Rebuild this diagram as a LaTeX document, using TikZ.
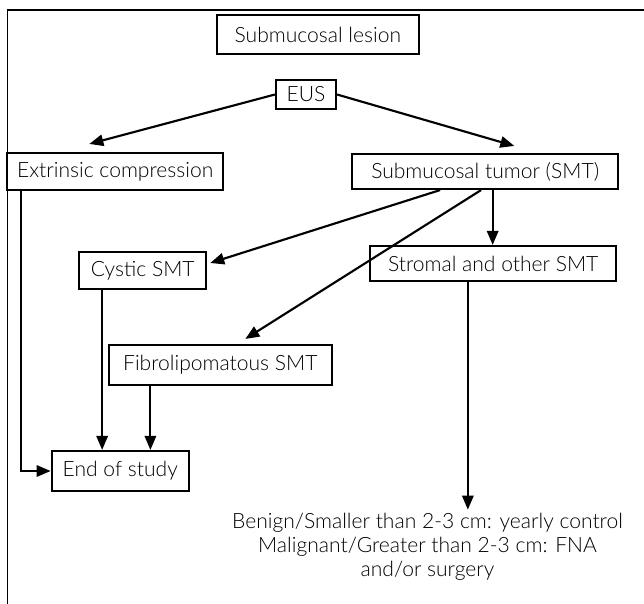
\documentclass[tikz,border=0pt]{standalone}
\usepackage{fontspec}
\setmainfont{Lato}[UprightFont=* Light]
\usetikzlibrary{arrows.meta}

\begin{document}
\begin{tikzpicture}[x=0.75pt, y=-0.75pt, >={Triangle[length=10.5pt, width=8.5pt]}, line width=1.6pt,
            box/.style={draw, inner sep=1pt, font=\fontsize{15.8}{18}\selectfont}]
            \useasboundingbox (0, 0) rectangle (644, 604);
            \draw[line width=1pt] (644, 10) -- (7.4, 10) -- (7.4, 604);
            \node[box, minimum width=151.5pt, minimum height=29.25pt] (0) at (317.9, 34.5) {Submucosal lesion};
            \node[box, minimum width=45pt, minimum height=21.75pt] (1) at (306, 94.5) {EUS};
            \node[box, minimum width=161.7pt, minimum height=27.75pt] (2) at (115.2, 171.5) {Extrinsic compression};
            \node[box, minimum width=199.2pt, minimum height=26.25pt] (3) at (485.2, 171.5) {Submucosal tumor (SMT)};
            \node[box, minimum width=95.25pt, minimum height=27.75pt] (4) at (142.7, 270.5) {Cystic SMT};
            \node[box, minimum width=184.2pt, minimum height=26.25pt] (5) at (493.2, 263.5) {Stromal and other SMT};
            \node[box, minimum width=167.25pt, minimum height=30pt] (6) at (220.3, 365) {Fibrolipomatous SMT};
            \node[box, minimum width=102.9pt, minimum height=30pt] (7) at (120.3, 471) {End of study};
            \node[align=center, inner sep=2pt, font=\fontsize{15.8}{18}\selectfont] (8) at (427.5, 547)
                {Benign/Smaller than 2-3 cm: yearly control\\Malignant/Greater than 2-3 cm: FNA\\and/or surgery};
            \draw[->] (1.west) -- ([shift={(83, -8)}]2.north west);
            \draw[->] (1.east) -- ([shift={(163, -7)}]3.north west);
            \draw[->] ([xshift=66.6]3.south west) -- ([shift={(3, -7.5)}]4.east);
            \draw[->] ([xshift=97.3]3.south west) -- ([shift={(137.6, -5)}]6.north west);
            \draw[->] ([xshift=5.6]3.south) -- ([xshift=5.6]3.south |- 5.north);
            \draw[->] ([xshift=-19]5.south) -- ([xshift=-19]5.south |- 8.north);
            \draw[->] ([xshift=11]2.south west) |- (7.west);
            \draw[->] ([xshift=18]4.south west) -- ([xshift=18]4.south west |- 7.north);
            \draw[->] ([xshift=32]6.south west) -- ([xshift=32]6.south west |- 7.north);
        \end{tikzpicture}
\end{document}
